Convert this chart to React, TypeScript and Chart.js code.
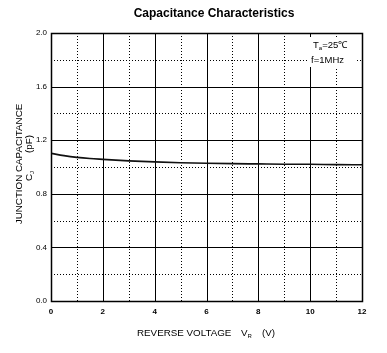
import { useEffect, useRef } from "react";
import { Chart, registerables } from "chart.js";

Chart.register(...registerables);

// ---- data ----
const voltage = [0, 0.5, 1, 1.5, 2, 3, 4, 5, 6, 7, 8, 9, 10, 11, 12];
const capacitance = [1.102, 1.085, 1.072, 1.063, 1.057, 1.046, 1.038, 1.032, 1.028, 1.025, 1.023, 1.021, 1.02, 1.018, 1.017];
const xTickValues = [0, 2, 4, 6, 8, 10, 12];
const xMinorValues = [1, 3, 5, 7, 9, 11];
const yTickValues = [0, 0.4, 0.8, 1.2, 1.6, 2.0];
const yMinorValues = [0.2, 0.6, 1.0, 1.4, 1.8];
const chartTitle = "Capacitance Characteristics";
const yTitleLine1 = "JUNCTION CAPACITANCE";
const yTitleSymbol = "C";
const yTitleSub = "J";
const yTitleUnit = "(pF)";
const xTitleText = "REVERSE VOLTAGE";
const xTitleSymbol = "V";
const xTitleSub = "R";
const xTitleUnit = "(V)";
const noteTemp = ["T", "a", "=25\u2103"];
const noteFreq = "f=1MHz";

const FONT = "'Liberation Sans', Arial, Helvetica, sans-serif";

const drawPlugin = {
  id: "customDraw",
  beforeDatasetsDraw(chart: any) {
    const { ctx, chartArea: a, scales } = chart;
    const xs = scales.x;
    const ys = scales.y;
    ctx.save();
    ctx.strokeStyle = "#000";
    ctx.lineWidth = 1;
    ctx.setLineDash([1, 2]);
    xMinorValues.forEach((v) => {
      const px = Math.round(xs.getPixelForValue(v)) + 0.5;
      ctx.beginPath();
      ctx.moveTo(px, a.top);
      ctx.lineTo(px, a.bottom);
      ctx.stroke();
    });
    yMinorValues.forEach((v) => {
      const py = Math.round(ys.getPixelForValue(v)) + 0.5;
      ctx.beginPath();
      ctx.moveTo(a.left, py);
      ctx.lineTo(a.right, py);
      ctx.stroke();
    });
    ctx.setLineDash([]);
    xTickValues.forEach((v) => {
      const px = Math.round(xs.getPixelForValue(v)) + 0.5;
      ctx.beginPath();
      ctx.moveTo(px, a.top);
      ctx.lineTo(px, a.bottom);
      ctx.stroke();
    });
    yTickValues.forEach((v) => {
      const py = Math.round(ys.getPixelForValue(v)) + 0.5;
      ctx.beginPath();
      ctx.moveTo(a.left, py);
      ctx.lineTo(a.right, py);
      ctx.stroke();
    });
    ctx.restore();
  },
  afterDatasetsDraw(chart: any) {
    const { ctx, chartArea: a } = chart;
    ctx.save();
    ctx.strokeStyle = "#000";
    ctx.lineWidth = 1.5;
    ctx.strokeRect(Math.round(a.left) + 0.5, Math.round(a.top) + 0.5, Math.round(a.right - a.left), Math.round(a.bottom - a.top));

    ctx.fillStyle = "#000";
    ctx.font = `bold 12px ${FONT}`;
    ctx.textAlign = "center";
    ctx.textBaseline = "middle";
    ctx.fillText(chartTitle, 214, 14);

    // annotation
    ctx.fillStyle = "#fff";
    ctx.fillRect(308, 37, 49, 30);
    ctx.fillStyle = "#000";
    ctx.textAlign = "left";
    ctx.textBaseline = "alphabetic";
    ctx.font = `9.5px ${FONT}`;
    let x = 313;
    ctx.fillText(noteTemp[0], x, 48);
    x += ctx.measureText(noteTemp[0]).width;
    ctx.font = `6px ${FONT}`;
    ctx.fillText(noteTemp[1], x, 50);
    x += ctx.measureText(noteTemp[1]).width;
    ctx.font = `9.5px ${FONT}`;
    ctx.fillText(noteTemp[2], x, 48);
    ctx.fillText(noteFreq, 311, 63);

    // x title
    ctx.font = `9.8px ${FONT}`;
    const ty = 335.5;
    ctx.fillText(xTitleText, 137, ty);
    let tx = 241;
    ctx.fillText(xTitleSymbol, tx, ty);
    tx += ctx.measureText(xTitleSymbol).width;
    ctx.font = `6px ${FONT}`;
    ctx.fillText(xTitleSub, tx, ty + 2);
    ctx.font = `9.8px ${FONT}`;
    ctx.fillText(xTitleUnit, 262, ty);

    // y title line 1
    ctx.save();
    ctx.translate(22, 164);
    ctx.rotate(-Math.PI / 2);
    ctx.textAlign = "center";
    ctx.font = `9.8px ${FONT}`;
    ctx.fillText(yTitleLine1, 0, 0);
    ctx.restore();

    // y title line 2
    ctx.save();
    ctx.translate(32, 158);
    ctx.rotate(-Math.PI / 2);
    ctx.textAlign = "left";
    ctx.font = `9.8px ${FONT}`;
    const wC = ctx.measureText(yTitleSymbol).width;
    const wU = ctx.measureText(yTitleUnit).width;
    ctx.font = `6px ${FONT}`;
    const wJ = ctx.measureText(yTitleSub).width;
    const gap = 18;
    const total = wC + wJ + gap + wU;
    let rx = -total / 2;
    ctx.font = `9.8px ${FONT}`;
    ctx.fillText(yTitleSymbol, rx, 0);
    rx += wC;
    ctx.font = `6px ${FONT}`;
    ctx.fillText(yTitleSub, rx, 2);
    rx += wJ + gap;
    ctx.font = `9.8px ${FONT}`;
    ctx.fillText(yTitleUnit, rx, 0);
    ctx.restore();

    ctx.restore();
  },
};

export default function App() {
  const ref = useRef<HTMLCanvasElement>(null);
  useEffect(() => {
    if (!ref.current) return;
    const chart = new Chart(ref.current, {
      type: "line",
      data: {
        datasets: [
          {
            data: voltage.map((v, i) => ({ x: v, y: capacitance[i] })),
            borderColor: "#111",
            borderWidth: 1.6,
            pointRadius: 0,
            cubicInterpolationMode: "monotone",
            fill: false,
          },
        ],
      },
      options: {
        responsive: false,
        animation: false,
        devicePixelRatio: 1,
        layout: { padding: { top: 33, right: 25, bottom: 0, left: 0 } },
        plugins: { legend: { display: false }, tooltip: { enabled: false }, title: { display: false } },
        scales: {
          x: {
            type: "linear",
            min: 0,
            max: 12,
            afterBuildTicks: (s: any) => {
              s.ticks = xTickValues.map((v) => ({ value: v }));
            },
            afterFit: (s: any) => {
              s.height = 52;
            },
            ticks: {
              autoSkip: false,
              maxRotation: 0,
              padding: 6,
              color: "#000",
              font: { family: FONT, size: 8, weight: "bold" },
              callback: (v: any) => String(v),
            },
            grid: { display: false, drawTicks: false, tickLength: 0 },
            border: { display: false },
          },
          y: {
            type: "linear",
            min: 0,
            max: 2,
            afterBuildTicks: (s: any) => {
              s.ticks = yTickValues.map((v) => ({ value: v }));
            },
            afterFit: (s: any) => {
              s.width = 51;
            },
            ticks: {
              autoSkip: false,
              padding: 4,
              color: "#000",
              font: { family: FONT, size: 8 },
              callback: (v: any) => Number(v).toFixed(1),
            },
            grid: { display: false, drawTicks: false, tickLength: 0 },
            border: { display: false },
          },
        },
      },
      plugins: [drawPlugin],
    } as any);
    return () => chart.destroy();
  }, []);
  return (
    <div style={{ position: "absolute", left: 0, top: 0, width: 387, height: 353, background: "#fff" }}>
      <canvas ref={ref} width={387} height={353} style={{ width: 387, height: 353, display: "block" }} />
    </div>
  );
}
